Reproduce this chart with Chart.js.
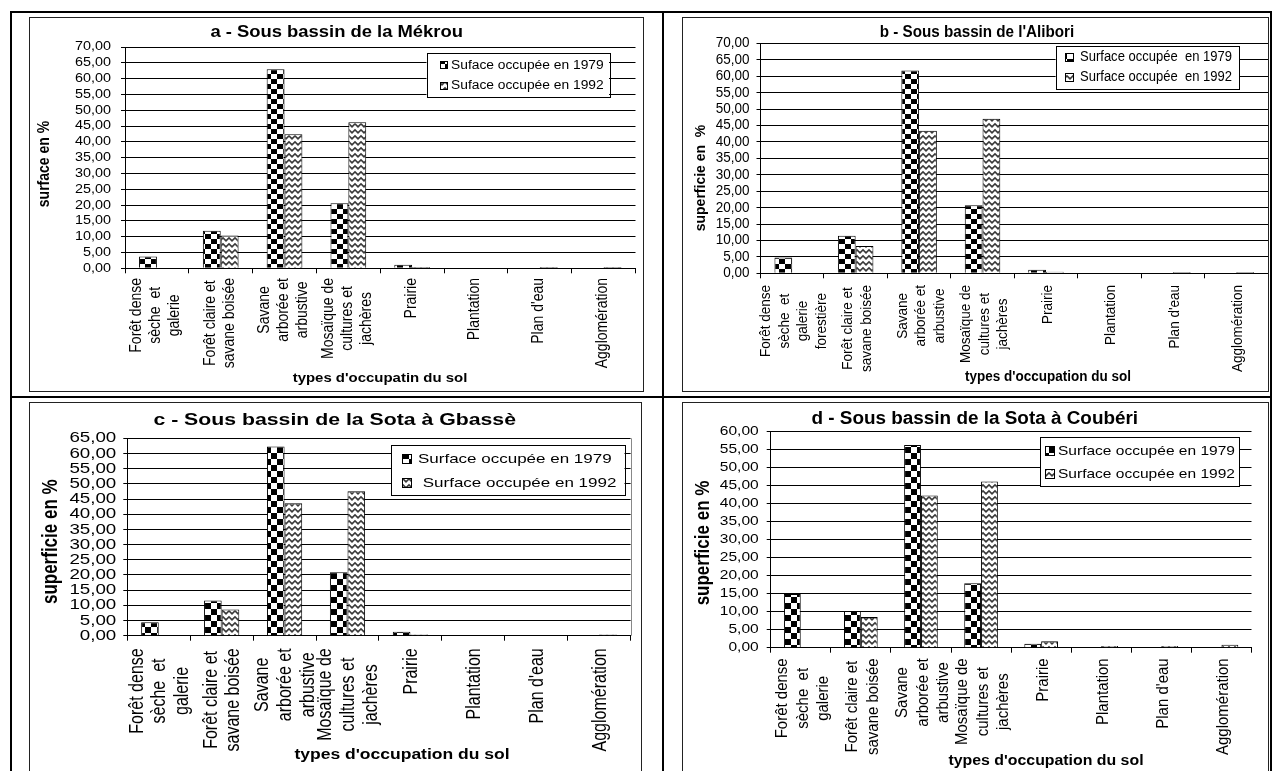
<!DOCTYPE html>
<html><head><meta charset="utf-8">
<script src="https://cdn.jsdelivr.net/npm/chart.js@4.4.0/dist/chart.umd.min.js"></script>
<style>
html,body{margin:0;padding:0;background:#fff;width:1273px;height:771px;overflow:hidden;position:relative;}
.ln{position:absolute;background:#000;z-index:3;}
.fr{position:absolute;border:1px solid #222;box-sizing:border-box;z-index:2;}
canvas{position:absolute;z-index:1;}
</style></head><body>
<div class="ln" style="left:10px;top:11px;width:1262px;height:2px"></div>
<div class="ln" style="left:10px;top:11px;width:2px;height:760px"></div>
<div class="ln" style="left:1270px;top:11px;width:2px;height:760px"></div>
<div class="ln" style="left:662px;top:11px;width:2px;height:760px"></div>
<div class="ln" style="left:10px;top:396px;width:1262px;height:2px"></div>
<div class="fr" style="left:29px;top:17px;width:615px;height:375px"></div>
<div class="fr" style="left:682px;top:17px;width:587px;height:375px"></div>
<div class="fr" style="left:29px;top:402px;width:613px;height:400px"></div>
<div class="fr" style="left:682px;top:402px;width:587px;height:400px"></div>
<canvas id="ca" width="648" height="381" style="left:13px;top:14px"></canvas>
<canvas id="cb" width="605" height="381" style="left:665px;top:14px"></canvas>
<canvas id="cc" width="648" height="372" style="left:13px;top:399px"></canvas>
<canvas id="cd" width="605" height="372" style="left:665px;top:399px"></canvas>
<script>
// ---------- DATA ----------
const CATEGORIES = [["Forêt dense","sèche  et","galerie"],["Forêt claire et","savane boisée"],["Savane","arborée et","arbustive"],["Mosaïque de","cultures et","jachères"],["Prairie"],["Plantation"],["Plan d'eau"],["Agglomération"]];
const CATEGORIES_B = [["Forêt dense","sèche  et","galerie","forestière"],["Forêt claire et","savane boisée"],["Savane","arborée et","arbustive"],["Mosaïque de","cultures et","jachères"],["Prairie"],["Plantation"],["Plan d'eau"],["Agglomération"]];

const MEKROU_1979 = [3.7, 11.9, 63.0, 20.6, 1.1, 0, 0, 0];
const MEKROU_1992 = [0, 10.4, 42.4, 46.2, 0.4, 0, 0.4, 0.4];
const ALIBORI_1979 = [4.8, 11.4, 61.7, 20.7, 1.1, 0, 0, 0];
const ALIBORI_1992 = [0, 8.3, 43.4, 47.0, 0.5, 0, 0.4, 0.4];
const GBASSE_1979 = [4.4, 11.6, 62.3, 20.9, 1.3, 0, 0, 0];
const GBASSE_1992 = [0, 8.6, 43.6, 47.6, 0.4, 0, 0, 0.4];
const COUBERI_1979 = [14.9, 10.2, 56.3, 17.9, 1.1, 0, 0, 0];
const COUBERI_1992 = [0, 8.5, 42.3, 46.2, 1.8, 0.5, 0.5, 0.8];

const TICKS_A = [0,5,10,15,20,25,30,35,40,45,50,55,60,65,70];
const TICKS_B = [0,5,10,15,20,25,30,35,40,45,50,55,60,65,70];
const TICKS_C = [0,5,10,15,20,25,30,35,40,45,50,55,60,65];
const TICKS_D = [0,5,10,15,20,25,30,35,40,45,50,55,60];

const TITLE_A = "a - Sous bassin de la Mékrou";
const TITLE_B = "b - Sous bassin de l'Alibori";
const TITLE_C = "c - Sous bassin de la Sota à Gbassè";
const TITLE_D = "d - Sous bassin de la Sota à Coubéri";
const LEGEND_A = ["Suface occupée en 1979","Suface occupée en 1992"];
const LEGEND_B = ["Surface occupée  en 1979","Surface occupée  en 1992"];
const LEGEND_C = ["Surface occupée en 1979"," Surface occupée en 1992"];
const LEGEND_D = ["Surface occupée en 1979","Surface occupée en 1992"];
const YTITLE_A = "surface en %";
const YTITLE_B = "superficie en  %";
const YTITLE_C = "superficie en %";
const YTITLE_D = "superficie en %";
const XTITLE_A = "types d'occupatin du sol";
const XTITLE_B = "types d'occupation du sol";
const XTITLE_C = "types d'occupation du sol";
const XTITLE_D = "types d'occupation du sol";

// ---------- PATTERNS ----------
function checker(cw, ch){
  const c=document.createElement('canvas'); c.width=cw*2; c.height=ch*2;
  const g=c.getContext('2d'); g.fillStyle='#fff'; g.fillRect(0,0,c.width,c.height);
  g.fillStyle='#000'; g.fillRect(0,0,cw,ch); g.fillRect(cw,ch,cw,ch);
  return g.createPattern(c,'repeat');
}
function zigzag(w,h){
  const c=document.createElement('canvas'); c.width=w; c.height=h;
  const g=c.getContext('2d'); g.fillStyle='#fff'; g.fillRect(0,0,w,h);
  g.strokeStyle='#3a3a3a'; g.lineWidth=1.6; g.beginPath();
  g.moveTo(-w/2,h*0.8); g.lineTo(0,h*0.3); g.lineTo(w/2,h*0.8); g.lineTo(w,h*0.3); g.lineTo(w*1.5,h*0.8);
  g.stroke();
  return g.createPattern(c,'repeat');
}

const FF = '"Liberation Sans", Arial, sans-serif';
// k = horizontal stretch of text (the reference panels are stretched images)
const PANELS = [
 { cid:'ca', cv:{x:13,y:14,w:648,h:381}, plot:{l:125,r:635.5,t:47,b:268.3}, ymax:70, ticks:TICKS_A, cats:CATEGORIES,
   s1:MEKROU_1979, s2:MEKROU_1992, title:TITLE_A, legend:LEGEND_A, ytitle:YTITLE_A, xtitle:XTITLE_A,
   titleF:'bold 16px '+FF, titleK:1.15, titlePos:[336.7,32.3], tickF:'12.5px '+FF, tickK:1.15, tickGap:14,
   catF:'14px '+FF, catK:1.15, catTop:278, catLH:19, catShift:-1,
   legBox:[426.5,53.3,609,97.3], legF:'12px '+FF, legK:1.15, legIcon:[440,8], legText:451, legY:[65.3,86],
   ytF:'bold 14px '+FF, ytK:1.15, ytPos:[45,164], xtF:'bold 13px '+FF, xtK:1.15, xtPos:[380,378.3], cell:[6,5] },
 { cid:'cb', cv:{x:665,y:14,w:605,h:381}, plot:{l:760.5,r:1268,t:43.3,b:273.3}, ymax:70, ticks:TICKS_B, cats:CATEGORIES_B,
   s1:ALIBORI_1979, s2:ALIBORI_1992, title:TITLE_B, legend:LEGEND_B, ytitle:YTITLE_B, xtitle:XTITLE_B,
   titleF:'bold 16px '+FF, titleK:0.95, titlePos:[977,32.3], tickF:'14.5px '+FF, tickK:0.93, tickGap:11,
   catF:'13.5px '+FF, catK:1.08, catTop:285, catLH:18.5, catShift:2,
   legBox:[1055.6,45.7,1239,88.3], legF:'14px '+FF, legK:0.93, legIcon:[1065,9], legText:1080, legY:[57,77],
   ytF:'bold 14px '+FF, ytK:1.0, ytPos:[701.3,178], xtF:'bold 14.5px '+FF, xtK:0.93, xtPos:[1048,376.7], cell:[6,5] },
 { cid:'cc', cv:{x:13,y:399,w:648,h:372}, plot:{l:127.3,r:630.6,t:438.3,b:635.7}, ymax:65, ticks:TICKS_C, cats:CATEGORIES,
   s1:GBASSE_1979, s2:GBASSE_1992, title:TITLE_C, legend:LEGEND_C, ytitle:YTITLE_C, xtitle:XTITLE_C,
   titleF:'bold 17px '+FF, titleK:1.25, titlePos:[334.7,420], tickF:'15px '+FF, tickK:1.25, tickGap:11,
   catF:'16px '+FF, catK:1.25, catTop:648.3, catLH:22.6, catShift:1,
   legBox:[391,445,624.5,495], legF:'13.6px '+FF, legK:1.25, legIcon:[402,10], legText:418, legY:[459,483],
   ytF:'bold 17px '+FF, ytK:1.25, ytPos:[51,541.7], xtF:'bold 14px '+FF, xtK:1.25, xtPos:[402,755], cell:[6,6], border:true },
 { cid:'cd', cv:{x:665,y:399,w:605,h:372}, plot:{l:770.7,r:1251.5,t:431.7,b:647.7}, ymax:60, ticks:TICKS_D, cats:CATEGORIES,
   s1:COUBERI_1979, s2:COUBERI_1992, title:TITLE_D, legend:LEGEND_D, ytitle:YTITLE_D, xtitle:XTITLE_D,
   titleF:'bold 17.5px '+FF, titleK:1.08, titlePos:[974.8,419.3], tickF:'13.5px '+FF, tickK:1.15, tickGap:12,
   catF:'15px '+FF, catK:1.15, catTop:658.3, catLH:20.4, catShift:2,
   legBox:[1040,437.3,1239,486], legF:'13.5px '+FF, legK:1.15, legIcon:[1045,10], legText:1058, legY:[451,474],
   ytF:'bold 17px '+FF, ytK:1.15, ytPos:[703.3,543], xtF:'bold 13.8px '+FF, xtK:1.15, xtPos:[1046,761], cell:[6,6] }
];

function txt(ctx, s, x, y, font, k, align, rot){
  ctx.save(); ctx.translate(x,y); ctx.scale(k,1); if(rot) ctx.rotate(-Math.PI/2);
  ctx.font=font; ctx.textAlign=align; ctx.textBaseline='middle'; ctx.fillStyle='#000';
  ctx.fillText(s,0,0); ctx.restore();
}

PANELS.forEach(p=>{
  const cv=p.cv, ox=cv.x, oy=cv.y;
  const pat1=checker(p.cell[0],p.cell[1]);
  const pat2=zigzag(6,6);
  const plugin={ id:'deco', afterDraw(chart){
    const ctx=chart.ctx, ys=chart.scales.y, xs=chart.scales.x;
    if(p.border){ ctx.save(); ctx.strokeStyle='#888'; ctx.lineWidth=1; ctx.beginPath();
      const r=Math.round(chart.chartArea.right)+0.5; ctx.moveTo(r,chart.chartArea.top); ctx.lineTo(r,chart.chartArea.bottom); ctx.stroke(); ctx.restore(); }
    p.ticks.forEach(v=>{
      const y=ys.getPixelForValue(v);
      txt(ctx, v.toFixed(2).replace('.',','), p.plot.l-ox-p.tickGap, y, p.tickF, p.tickK, 'right', false);
    });
    ctx.save(); ctx.font=p.catF;
    p.cats.forEach((lines,i)=>{
      const cx=xs.getPixelForValue(i)+p.catShift;
      let maxL=0; lines.forEach(s=>{maxL=Math.max(maxL,ctx.measureText(s).width);});
      const n=lines.length;
      lines.forEach((s,j)=>{
        txt(ctx, s, cx+(j-(n-1)/2)*p.catLH, p.catTop-oy+maxL/2, p.catF, p.catK, 'center', true);
      });
    });
    ctx.restore();
    txt(ctx, p.title, p.titlePos[0]-ox, p.titlePos[1]-oy, p.titleF, p.titleK, 'center', false);
    txt(ctx, p.ytitle, p.ytPos[0]-ox, p.ytPos[1]-oy, p.ytF, p.ytK, 'center', true);
    txt(ctx, p.xtitle, p.xtPos[0]-ox, p.xtPos[1]-oy, p.xtF, p.xtK, 'center', false);
    const b=p.legBox;
    ctx.save(); ctx.fillStyle='#fff'; ctx.strokeStyle='#000'; ctx.lineWidth=1;
    ctx.fillRect(b[0]-ox,b[1]-oy,b[2]-b[0],b[3]-b[1]);
    ctx.strokeRect(Math.round(b[0]-ox)+0.5,Math.round(b[1]-oy)+0.5,Math.round(b[2]-b[0]),Math.round(b[3]-b[1]));
    [pat1,pat2].forEach((pt,i)=>{
      const s=p.legIcon[1], ix=Math.round(p.legIcon[0]-ox), iy=Math.round(p.legY[i]-oy-s/2);
      ctx.fillStyle=pt; ctx.fillRect(ix,iy,s,s);
      ctx.strokeStyle='#000'; ctx.strokeRect(ix+0.5,iy+0.5,s-1,s-1);
      txt(ctx, p.legend[i], p.legText-ox, p.legY[i]-oy, p.legF, p.legK, 'left', false);
    });
    ctx.restore();
  }};
  new Chart(document.getElementById(p.cid), {
    type:'bar',
    data:{ labels:p.cats.map(l=>l.join(' ')), datasets:[
      {data:p.s1, backgroundColor:pat1, borderColor:'#000', borderWidth:1, categoryPercentage:0.56, barPercentage:1},
      {data:p.s2, backgroundColor:pat2, borderColor:'#000', borderWidth:1, categoryPercentage:0.56, barPercentage:1}
    ]},
    options:{
      responsive:false, animation:false, devicePixelRatio:1,
      layout:{padding:{left:0, top:p.plot.t-oy, right:ox+cv.w-p.plot.r, bottom:oy+cv.h-p.plot.b-6}},
      plugins:{legend:{display:false}, title:{display:false}, tooltip:{enabled:false}},
      scales:{
        x:{ type:'category', offset:true,
            grid:{offset:true, drawOnChartArea:false, drawTicks:true, tickLength:5, color:'#000', lineWidth:1},
            border:{display:true, color:'#000', width:1},
            ticks:{display:false}, afterFit(s){ s.height=6; } },
        y:{ min:0, max:p.ymax,
            ticks:{display:false, stepSize:5, autoSkip:false},
            grid:{color:'#000', lineWidth:1, drawTicks:true, tickLength:4},
            border:{display:true, color:'#000', width:1},
            afterFit(s){ s.width=p.plot.l-ox; } }
      }
    },
    plugins:[plugin]
  });
});
</script>
</body></html>
